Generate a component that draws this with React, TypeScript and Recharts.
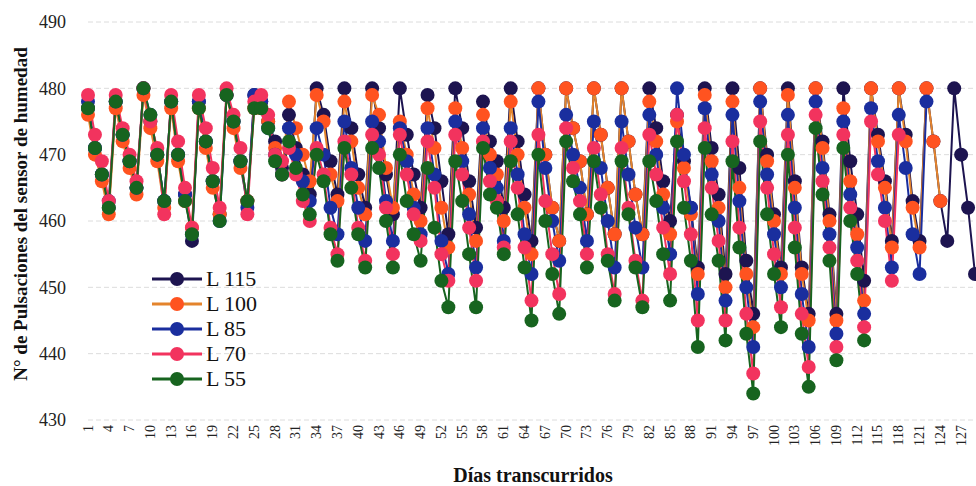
import React from 'react';
import { LineChart, Line, XAxis, YAxis, CartesianGrid, Label } from 'recharts';

// days 1..129 on the x axis
const days: number[] = [
  1, 2, 3, 4, 5, 6, 7, 8, 9, 10, 11, 12, 13, 14, 15, 16, 17, 18, 19, 20,
  21, 22, 23, 24, 25, 26, 27, 28, 29, 30, 31, 32, 33, 34, 35, 36, 37, 38, 39, 40,
  41, 42, 43, 44, 45, 46, 47, 48, 49, 50, 51, 52, 53, 54, 55, 56, 57, 58, 59, 60,
  61, 62, 63, 64, 65, 66, 67, 68, 69, 70, 71, 72, 73, 74, 75, 76, 77, 78, 79, 80,
  81, 82, 83, 84, 85, 86, 87, 88, 89, 90, 91, 92, 93, 94, 95, 96, 97, 98, 99, 100,
  101, 102, 103, 104, 105, 106, 107, 108, 109, 110, 111, 112, 113, 114, 115, 116, 117, 118, 119, 120,
  121, 122, 123, 124, 125, 126, 127, 128, 129,
];

const l115: number[] = [
  477, 471, 467, 462, 478, 473, 469, 465, 480, 475, 470, 463, 478, 470, 464, 457, 478, 472, 466, 461,
  479, 475, 469, 463, 479, 478, 475, 472, 468,
  476, 471, 467, 464,
  480, 476, 469, 464, 480, 474, 467, 462, 480, 474, 467, 461, 480, 473, 467, 462,
  479, 474, 466, 458, 480, 474, 466, 459, 478, 472, 469, 462, 480, 472, 464, 457,
  480, 470, 462, 457, 480, 474, 469, 461, 480, 473, 465, 458, 480, 472, 464, 458,
  480, 474, 466, 460, 476, 469, 462, 453, 480, 471, 464, 452, 480, 468, 454, 446,
  480, 470, 461, 453, 480, 466, 453, 446, 480, 472, 461, 446, 480, 469, 461, 451,
  480, 473, 466, 457, 480, 473, 463, 457, 480, 472, 463, 457, 480, 470, 462, 452,
];

const l100: number[] = [
  476, 470, 466, 461, 477, 472, 468, 464, 479, 474, 469, 462, 477, 469, 463, 459, 477, 471, 465, 461,
  479, 474, 468, 463, 477, 477, 475, 471, 467,
  478, 474, 470, 466,
  479, 475, 467, 463, 478, 472, 465, 461, 479, 476, 468, 462, 475, 470, 464, 460,
  477, 471, 462, 456, 477, 471, 464, 457, 476, 470, 467, 460, 478, 470, 462, 455,
  480, 470, 462, 457, 480, 474, 469, 461, 480, 473, 465, 458, 480, 472, 464, 458,
  478, 472, 464, 458, 475, 468, 461, 452, 479, 469, 462, 450, 478, 465, 452, 444,
  480, 469, 460, 452, 479, 465, 452, 445, 480, 471, 460, 445, 477, 466, 458, 448,
  480, 472, 465, 456, 480, 472, 462, 456, 480, 472, 463,
];

const l85: number[] = [
  478, 471, 467, 463, 478, 473, 469, 465, 480, 476, 470, 463, 478, 470, 464, 458, 478, 472, 466, 460,
  479, 475, 469, 462, 479, 478, 474, 470, 467,
  474, 470, 466, 463,
  474, 470, 462, 458, 475, 468, 462, 457, 475, 472, 463, 457, 474, 469, 462, 458,
  474, 467, 457, 452, 475, 469, 461, 453, 474, 468, 465, 457, 474, 467, 458, 452,
  478, 468, 460, 454, 476, 470, 465, 457, 475, 468, 460, 453, 475, 467, 459, 453,
  476, 470, 462, 455, 480, 470, 462, 449, 477, 467, 460, 448, 476, 463, 450, 441,
  478, 467, 458, 450, 476, 462, 449, 441, 478, 468, 458, 443, 475, 464, 456, 446,
  477, 469, 462, 453, 476, 468, 458, 452, 478,
];

const l70: number[] = [
  479, 473, 469, 463, 479, 474, 470, 466, 480, 475, 471, 461, 479, 472, 465, 459, 479, 474, 468, 462,
  480, 476, 471, 461, 478, 479, 476, 470, 469,
  471, 467, 463, 460,
  471, 467, 459, 455, 472, 467, 459, 454, 473, 470, 462, 455, 473, 467, 461, 457,
  472, 465, 455, 451, 473, 467, 459, 451, 472, 466, 463, 456, 472, 465, 456, 448,
  473, 463, 455, 449, 474, 468, 463, 455, 471, 464, 455, 449, 471, 462, 454, 448,
  473, 467, 459, 452, 476, 466, 458, 445, 474, 465, 457, 445, 472, 459, 446, 437,
  475, 465, 455, 447, 473, 459, 446, 438, 476, 466, 456, 441, 473, 462, 454, 444,
  475, 467, 460, 451, 473,
];

const l55: number[] = [
  477, 471, 467, 462, 478, 473, 469, 465, 480, 476, 470, 463, 478, 470, 463, 458, 477, 472, 466, 460,
  479, 475, 469, 463, 477, 477, 474, 469, 467,
  472, 468, 464, 461,
  470, 466, 458, 454, 471, 465, 458, 453, 471, 468, 460, 453, 470, 463, 458, 454,
  468, 459, 451, 447, 469, 463, 455, 447, 471, 464, 462, 455, 469, 461, 453, 445,
  470, 460, 452, 446, 472, 466, 461, 453, 469, 462, 454, 448, 469, 461, 453, 447,
  469, 463, 455, 448, 472, 462, 454, 441, 471, 461, 454, 442, 469, 456, 443, 434,
  472, 461, 452, 444, 470, 456, 443, 435, 474, 464, 454, 439, 471, 460, 452, 442,
];

const yTicks = [430, 440, 450, 460, 470, 480, 490];

const series = [
  { key: 'L 115', values: l115, line: '#1d1450', dot: '#1d1450' },
  { key: 'L 100', values: l100, line: '#e4842c', dot: '#ff5320' },
  { key: 'L 85', values: l85, line: '#1a2e9e', dot: '#1a2e9e' },
  { key: 'L 70', values: l70, line: '#f2335e', dot: '#f2335e' },
  { key: 'L 55', values: l55, line: '#17641f', dot: '#17641f' },
];

const data = days.map((d, i) => {
  const row: Record<string, number | undefined> = { day: d };
  series.forEach((s) => {
    row[s.key] = s.values[i];
  });
  return row;
});

const serif = '"Liberation Serif", "Times New Roman", serif';

const XTick = (props: any) => {
  const { x, y, payload } = props;
  return (
    <text
      x={x}
      y={y}
      transform={`rotate(-90 ${x} ${y})`}
      textAnchor="end"
      dominantBaseline="central"
      fontSize={14}
      fontFamily={serif}
      fill="#222"
    >
      {payload.value}
    </text>
  );
};

const LegendBox = () => (
  <div style={{ position: 'absolute', left: 152, top: 266, fontFamily: serif, fontSize: 22, color: '#111' }}>
    {series.map((s) => (
      <div key={s.key} style={{ display: 'flex', alignItems: 'center', height: 25 }}>
        <svg width={50} height={16} style={{ marginRight: 4 }}>
          <line x1={0} y1={8} x2={50} y2={8} stroke={s.line} strokeWidth={3} />
          <circle cx={25} cy={8} r={7} fill={s.dot} />
        </svg>
        <span>{s.key}</span>
      </div>
    ))}
  </div>
);

export default function App() {
  return (
    <div style={{ position: 'fixed', left: 0, top: 0, width: 976, height: 486, background: '#fff' }}>
      <LineChart width={976} height={486} data={data} margin={{ top: 22, right: 1, bottom: 0, left: 0 }}>
        <CartesianGrid vertical={false} stroke="#dcdcdc" strokeDasharray="5 3" />
        <XAxis
          dataKey="day"
          interval={2}
          height={66}
          tick={<XTick />}
          tickSize={0}
          tickMargin={5}
          axisLine={false}
        >
          <Label
            content={() => (
              <text x={533} y={482} textAnchor="middle" fontFamily={serif} fontSize={20} fontWeight="bold" fill="#111">
                Días transcurridos
              </text>
            )}
          />
        </XAxis>
        <YAxis
          domain={[430, 490]}
          ticks={yTicks}
          width={88}
          tickSize={0}
          tickMargin={22}
          axisLine={false}
          tick={{ fontSize: 18, fontFamily: serif, fill: '#222' }}
        >
          <Label
            content={() => (
              <text
                x={20}
                y={214}
                transform="rotate(-90 20 214)"
                textAnchor="middle"
                dominantBaseline="central"
                fontFamily={serif}
                fontSize={19}
                fontWeight="bold"
                fill="#111"
              >
                N° de Pulsaciones del sensor de humedad
              </text>
            )}
          />
        </YAxis>
        {series.map((s) => (
          <Line
            key={s.key}
            dataKey={s.key}
            stroke={s.line}
            strokeWidth={2}
            dot={{ r: 7, fill: s.dot, stroke: s.dot, strokeWidth: 0 }}
            activeDot={false}
            isAnimationActive={false}
          />
        ))}
      </LineChart>
      <LegendBox />
    </div>
  );
}
